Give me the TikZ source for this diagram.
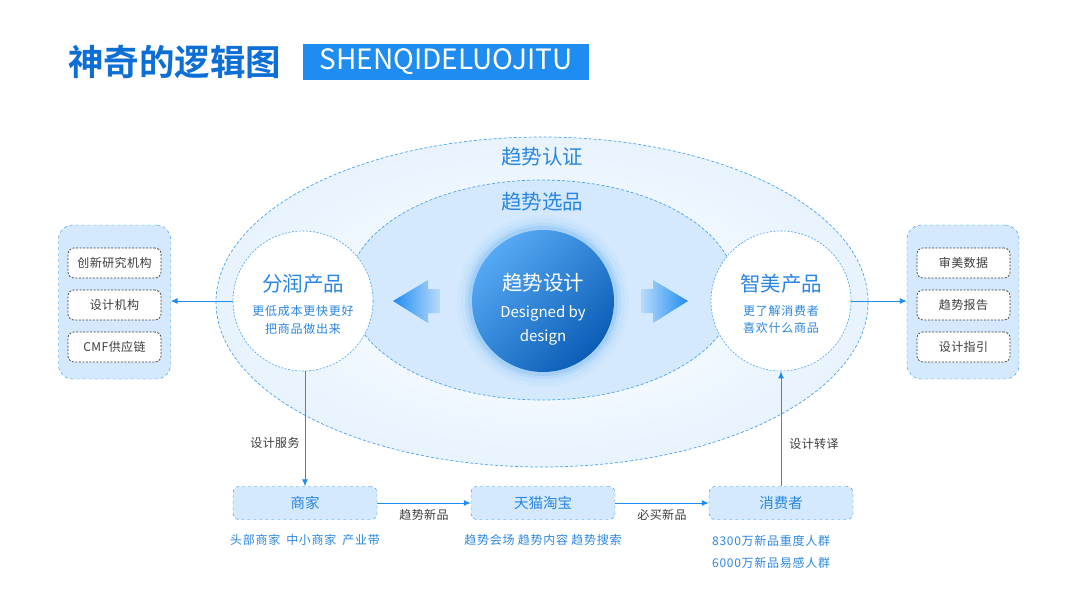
\documentclass[tikz,border=0pt]{standalone}
\usepackage{fontspec}
\setmainfont{Noto Sans CJK SC}[BoldFont={Noto Sans CJK SC Bold}]
\usetikzlibrary{arrows.meta,positioning}

\definecolor{deepblue}{HTML}{0D6ED6}
\definecolor{mainblue}{HTML}{1E8CF0}
\definecolor{textblue}{HTML}{2A86E2}
\definecolor{paleblue}{HTML}{D4E9FD}
\definecolor{linegray}{HTML}{3C3C3C}

\newcommand\fsz[2]{\fontsize{#1}{#2}\selectfont}

\tikzset{
  panel/.style={draw=mainblue, dashed, fill=paleblue, rounded corners=14pt, minimum width=112pt, minimum height=154pt},
  item/.style={draw=linegray, dash pattern=on 2pt off 1.5pt, line width=0.7pt, fill=white, rounded corners=6pt, minimum width=93pt, minimum height=30pt, font=\fsz{12}{14}\addfontfeature{LetterSpace=4}, text=linegray},
  stage/.style={draw=mainblue, dashed, fill=paleblue, rounded corners=6pt, minimum width=144pt, minimum height=33pt, font=\fsz{14.5}{16}, text=textblue},
  bubble/.style={circle, draw=mainblue!80, dash pattern=on 2pt off 1.5pt, line width=0.6pt, fill=white, minimum size=140pt},
  link/.style={-{Latex[length=7pt,width=6pt]}, draw=mainblue, line width=1pt},
  note/.style={font=\fsz{12}{14}\addfontfeature{LetterSpace=3}, text=linegray},
  hint/.style={font=\fsz{12}{14}\addfontfeature{LetterSpace=6}, text=textblue},
  big/.style={font=\fsz{20.5}{22}, text=textblue},
}

\begin{document}
\begin{tikzpicture}[x=1pt, y=-1pt, node distance=42pt]
\useasboundingbox (0,0) rectangle (1080,608);

% title
\node (title) [anchor=west, inner sep=0, font=\bfseries\fsz{35.5}{36}, text=deepblue] at (68,62) {神奇的逻辑图};
\node (tag) [anchor=west, inner sep=0, fill=mainblue, text=white, font=\fsz{28}{30}, minimum width=286pt, minimum height=36pt] at (303,62) {SHENQIDELUOJITU};

% rings
\draw[mainblue!80, dash pattern=on 3pt off 2pt, line width=0.7pt, inner color=white, outer color=paleblue!55!white] (542,302) ellipse [x radius=326, y radius=165];
\draw[mainblue!80, dash pattern=on 3pt off 2pt, line width=0.7pt, fill=paleblue] (542,290) ellipse [x radius=194, y radius=110];
\node (renzheng) [big] at (542,157) {趋势认证};
\node (xuanpin) [big] at (542,202) {趋势选品};

% centre
\foreach \r/\o in {86/0.03, 82/0.05, 78/0.08, 75/0.12} {
  \fill[mainblue, opacity=\o] (543,301) circle (\r);
}
\node (core) [circle, minimum size=142pt, top color=mainblue!75!white, bottom color=deepblue!85!black, shading angle=45] at (543,301) {};
\node (coretitle) [font=\fsz{20.5}{22}, text=white] at (543,283) {趋势设计};
\node (coreline1) [font=\fsz{15}{16}, text=white] at (543,313) {Designed by};
\node (coreline2) [font=\fsz{15}{16}, text=white] at (543,337) {design};

% block arrows
\shade[left color=mainblue, right color=mainblue!15!paleblue] (393,301) -- (428,280) -- (428,289) -- (440,289) -- (440,313) -- (428,313) -- (428,323) -- cycle;
\shade[right color=mainblue, left color=mainblue!15!paleblue] (688,301) -- (653,280) -- (653,289) -- (641,289) -- (641,313) -- (653,313) -- (653,323) -- cycle;

% side circles
\node (fenrun) [bubble] at (303,301) {};
\node (fenruntitle) [big] at (303,284) {分润产品};
\node (fenrun1) [hint] at (303,311) {更低成本更快更好};
\node (fenrun2) [hint] at (303,329) {把商品做出来};

\node (zhimei) [bubble] at (781,301) {};
\node (zhimeititle) [big] at (781,284) {智美产品};
\node (zhimei1) [hint] at (781,311) {更了解消费者};
\node (zhimei2) [hint] at (781,328) {喜欢什么商品};

% side panels
\node (lab) [panel] at (114.5,302) {};
\node (lab1) [item] at (114.5,263) {创新研究机构};
\node (lab2) [item, below of=lab1] {设计机构};
\node (lab3) [item, below of=lab2] {CMF供应链};

\node (tips) [panel] at (963,302) {};
\node (tips1) [item] at (963.5,263) {审美数据};
\node (tips2) [item, below of=tips1] {趋势报告};
\node (tips3) [item, below of=tips2] {设计指引};

\draw[link] (fenrun.west) -- (fenrun.west -| lab.east);
\draw[link] (zhimei.east) -- (zhimei.east -| tips.west);

% bottom chain
\node (merchant) [stage] at (305,503) {商家};
\node (tmall) [stage, right of=merchant, xshift=196pt] {天猫淘宝};
\node (consumer) [stage, right of=tmall, xshift=196pt] {消费者};

\draw[link] (merchant) -- (tmall) node[note, midway, below=3pt] (trendnew) {趋势新品};
\draw[link] (tmall) -- (consumer) node[note, midway, below=3pt] (mustbuy) {必买新品};
\draw[link] (fenrun.south -| merchant.north) -- (merchant.north);
\draw[link] (consumer.north) -- (zhimei.south);
\node (service) [note] at (275,443) {设计服务};
\node (translate) [note] at (814,444) {设计转译};

\node (merchantnote) [hint] at (305,540) {头部商家\enspace 中小商家\enspace 产业带};
\node (tmallnote) [hint] at (543,540) {趋势会场 趋势内容 趋势搜索};
\node (crowd) [hint, align=left, anchor=north west, inner sep=0] at (712,535) {8300万新品重度人群\\[8pt]6000万新品易感人群};
\end{tikzpicture}
\end{document}
